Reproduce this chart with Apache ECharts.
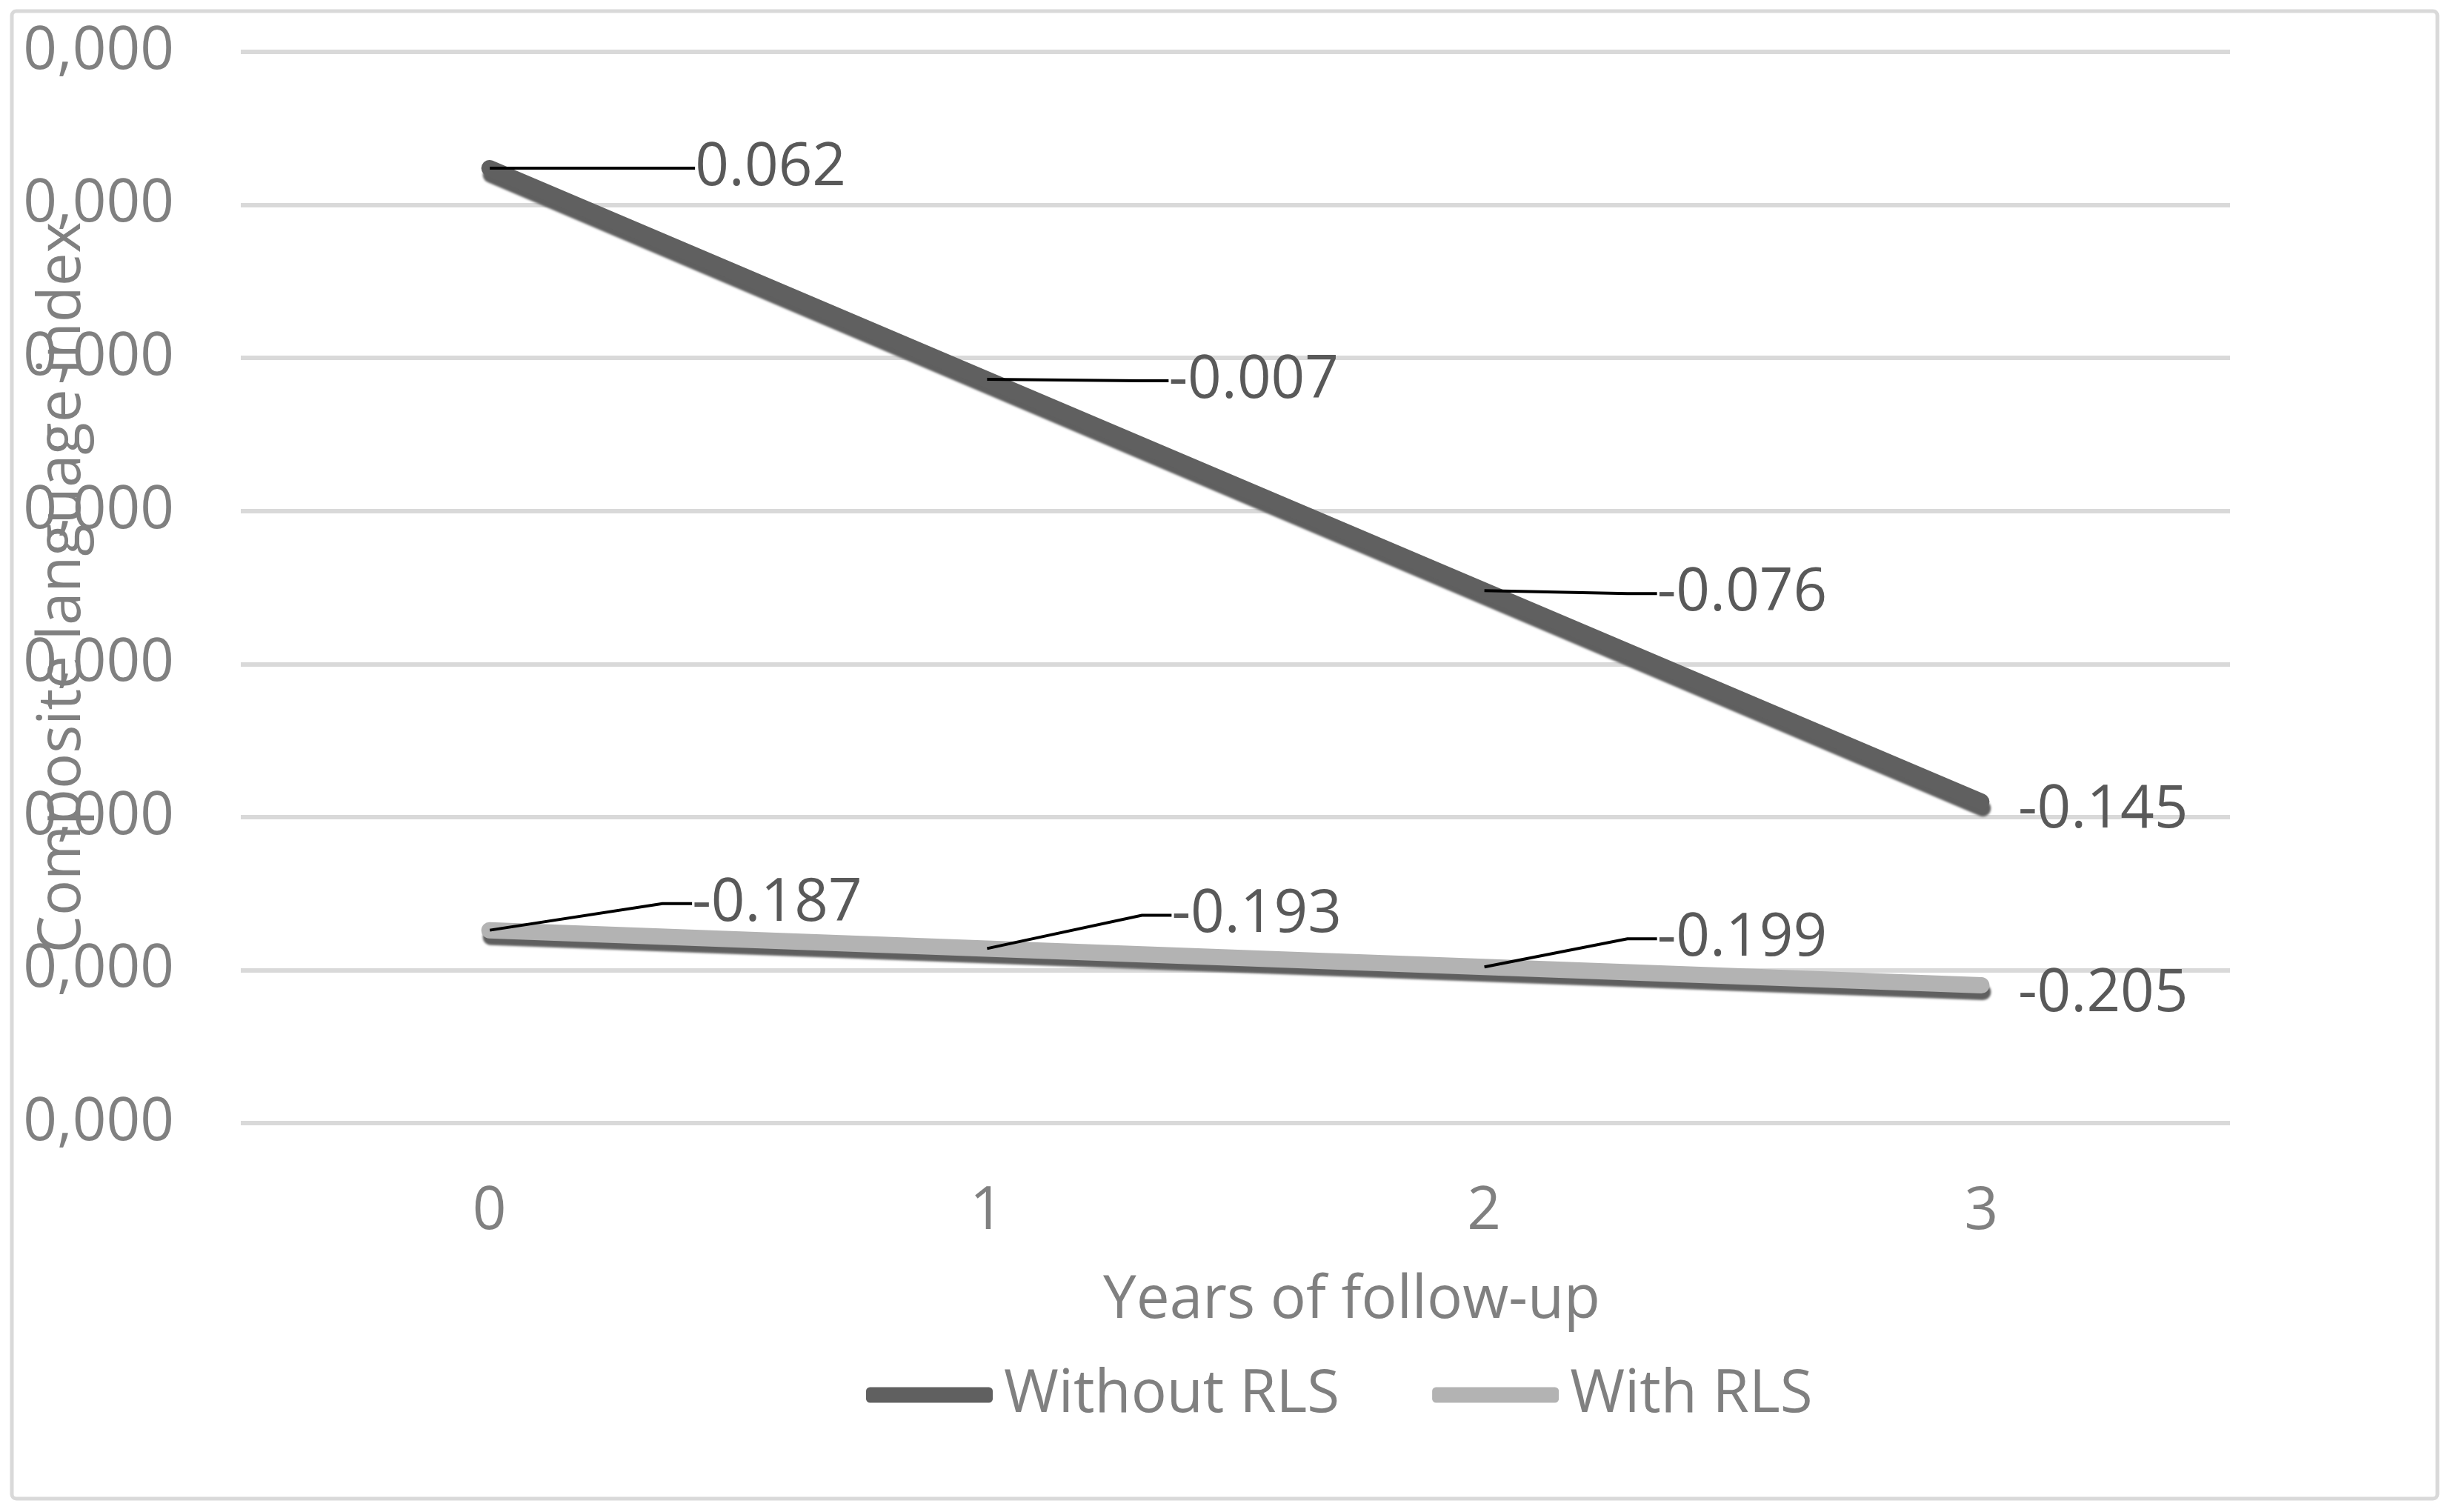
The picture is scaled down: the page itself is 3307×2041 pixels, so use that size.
<!DOCTYPE html>
<html><head><meta charset="utf-8">
<script src="https://cdn.jsdelivr.net/npm/echarts@6/dist/echarts.min.js"></script>
<style>html,body{margin:0;padding:0;background:#fff}#c{width:3307px;height:2041px}</style>
</head><body><div id="c"></div>
<script>
// ---- data ----
const years = ['0', '1', '2', '3'];
const withoutRLS = [0.062, -0.007, -0.076, -0.145];
const withRLS = [-0.187, -0.193, -0.199, -0.205];
const yTickText = '0,000';
const seriesNames = ['Without RLS', 'With RLS'];

// ---- label placement (style) ----
const offWithout = [[272, 0], [240, 2], [228, 4], [44, 12]];
const offWith = [[268, -36], [244, -45], [228, -38], [44, 12]];

const FONT = 'Open Sans';
const chart = echarts.init(document.getElementById('c'), null, {renderer: 'canvas'});

function mkData(vals) {
  return vals.map((v, i) => i === vals.length - 1 ? {value: v, labelLine: {show: false}} : v);
}
function mkSeries(name, vals, color, offs) {
  return {
    name: name, type: 'line', data: mkData(vals),
    symbol: 'circle', symbolSize: 1, showSymbol: true,
    itemStyle: {color: color},
    lineStyle: {width: 22, color: color, cap: 'round', join: 'round',
      shadowColor: '#5f5f5f', shadowBlur: 3, shadowOffsetX: 2, shadowOffsetY: 9},
    label: {show: true, position: 'right', distance: 5, color: '#595959', fontFamily: FONT, fontSize: 80,
      formatter: p => p.value.toFixed(3)},
    labelLine: {show: true, showAbove: true, length2: 40, lineStyle: {color: '#000', width: 4}},
    labelLayout: p => ({dx: offs[p.dataIndex][0], dy: offs[p.dataIndex][1]}),
    emphasis: {disabled: true}, animation: false
  };
}

chart.setOption({
  animation: false,
  backgroundColor: '#fff',
  graphic: [{type: 'rect', shape: {x: 16, y: 15, width: 3274, height: 2008, r: 6},
    style: {fill: 'none', stroke: '#d9d9d9', lineWidth: 5}, silent: true, z: -1}],
  grid: {left: 325, right: 297, top: 70, bottom: 525, containLabel: false, outerBoundsMode: 'none'},
  legend: {
    left: 1164, top: 1838, itemWidth: 171, itemHeight: 21, itemGap: 125, icon: 'roundRect',
    textStyle: {color: '#808080', fontFamily: FONT, fontSize: 80, padding: [0, 0, 0, 10]},
    data: seriesNames
  },
  xAxis: {
    type: 'category', data: years, boundaryGap: true,
    axisLine: {show: false}, axisTick: {show: false},
    axisLabel: {color: '#808080', fontFamily: FONT, fontSize: 80, margin: 80},
    name: 'Years of follow-up', nameLocation: 'middle', nameGap: 200, nameMoveOverlap: false,
    nameTextStyle: {color: '#808080', fontFamily: FONT, fontSize: 80, padding: [0, 0, 0, 314]}
  },
  yAxis: {
    type: 'value', min: -0.25, max: 0.1, interval: 0.05,
    axisLine: {show: false}, axisTick: {show: false},
    axisLabel: {color: '#808080', fontFamily: FONT, fontSize: 80, margin: 90, formatter: () => yTickText},
    splitLine: {lineStyle: {color: '#d9d9d9', width: 6}},
    name: 'Composite language index', nameLocation: 'middle', nameRotate: 90, nameGap: 200, nameMoveOverlap: false,
    nameTextStyle: {color: '#808080', fontFamily: FONT, fontSize: 80}
  },
  series: [
    mkSeries(seriesNames[0], withoutRLS, '#606060', offWithout),
    mkSeries(seriesNames[1], withRLS, '#b3b3b3', offWith)
  ]
});
</script></body></html>
